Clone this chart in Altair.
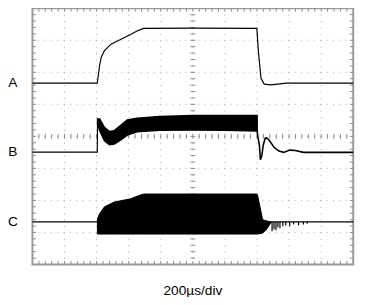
import altair as alt
import pandas as pd

W, H = 328, 262

# ---- data (time in µs, amplitude in divisions, 0..8) ----
a_t = [0, 404, 419, 429, 449, 490, 530, 571, 612, 652, 693, 1000, 1399, 1409, 1425, 1445, 1486, 1585, 2000]
a_v = [5.66, 5.66, 6.22, 6.47, 6.68, 6.88, 6.98, 7.08, 7.18, 7.29, 7.37, 7.38, 7.37, 6.63, 5.81, 5.63, 5.61, 5.66, 5.66]

b_pre_t = [0, 404, 406]
b_pre_v = [3.51, 3.51, 4.54]
b_band_t = [406, 419, 449, 480, 510, 549, 591, 652, 793, 998, 1201, 1401]
b_band_top = [4.54, 4.54, 4.28, 4.15, 4.18, 4.34, 4.51, 4.57, 4.62, 4.65, 4.65, 4.65]
b_band_bot = [4.40, 4.18, 3.86, 3.74, 3.76, 3.88, 4.04, 4.14, 4.19, 4.20, 4.19, 4.17]
b_post_t = [1401, 1405, 1415, 1421, 1430, 1439, 1451, 1460, 1476, 1506, 1537, 1567, 1604, 1640, 1689, 1750, 2000]
b_post_v = [4.17, 4.00, 3.73, 3.27, 3.39, 3.73, 3.94, 3.95, 3.88, 3.66, 3.54, 3.50, 3.57, 3.56, 3.50, 3.50, 3.50]

c_base = 1.33
c_pre_t = [0, 405]
c_band_t = [405, 407, 419, 449, 510, 612, 673, 693, 1400, 1404, 1435, 1460, 1486]
c_band_top = [1.33, 1.45, 1.59, 1.80, 1.95, 2.05, 2.17, 2.20, 2.20, 2.15, 1.40, 1.36, 1.33]
c_band_bot = [0.95, 0.95, 0.95, 0.95, 0.95, 0.95, 0.95, 0.95, 0.95, 0.95, 0.98, 1.10, 1.30]
c_post_t = [1435, 1486, 2000]
c_spike_t = [1494, 1506, 1518, 1530, 1543, 1561, 1579, 1604, 1628, 1659, 1689, 1713]
c_spike_v = [1.04, 1.10, 1.07, 1.16, 1.13, 1.19, 1.22, 1.19, 1.25, 1.22, 1.25, 1.27]

labels = ["A", "B", "C"]
label_levels = [5.66, 3.51, 1.33]
caption = "200µs/div"

grid_t = [200, 400, 600, 800, 1000, 1200, 1400, 1600, 1800]
grid_v = [1, 2, 3, 4, 5, 6, 7]
minor_t = [i * 40 for i in range(1, 50)]
minor_v = [round(i * 0.2, 2) for i in range(1, 40)]

# ---- chart ----
xs = alt.Scale(domain=[0, 2000], nice=False, zero=False)
ys = alt.Scale(domain=[0, 8], nice=False, zero=False)


def X(f="t"):
    return alt.X(f"{f}:Q", scale=xs, axis=None)


def Y(f="v"):
    return alt.Y(f"{f}:Q", scale=ys, axis=None)


GRID = "#a8a8a8"
TICK = "#8a8a8a"
FONT = "Liberation Sans"

df_gt = pd.DataFrame({"t": grid_t})
df_gv = pd.DataFrame({"v": grid_v})
df_mt = pd.DataFrame({"t": minor_t})
df_mv = pd.DataFrame({"v": minor_v})

vgrid = alt.Chart(df_gt).mark_rule(color=GRID, strokeWidth=1, strokeDash=[1, H / 40 - 1]).encode(x=X())
hgrid = alt.Chart(df_gv).mark_rule(color=GRID, strokeWidth=1, strokeDash=[1, W / 50 - 1]).encode(y=Y())

ctick_x = alt.Chart(df_mt).mark_rule(color=TICK, strokeWidth=1).encode(
    x=X(), y=alt.value(H / 2 - 2.5), y2=alt.value(H / 2 + 2.5))
ctick_y = alt.Chart(df_mv).mark_rule(color=TICK, strokeWidth=1).encode(
    y=Y(), x=alt.value(W / 2 - 2.5), x2=alt.value(W / 2 + 2.5))
top_t = alt.Chart(df_mt).mark_rule(color=TICK, strokeWidth=1).encode(
    x=X(), y=alt.value(0), y2=alt.value(3.5))
bot_t = alt.Chart(df_mt).mark_rule(color=TICK, strokeWidth=1).encode(
    x=X(), y=alt.value(H - 3.5), y2=alt.value(H))
left_t = alt.Chart(df_mv).mark_rule(color=TICK, strokeWidth=1).encode(
    y=Y(), x=alt.value(0), x2=alt.value(3.5))
right_t = alt.Chart(df_mv).mark_rule(color=TICK, strokeWidth=1).encode(
    y=Y(), x=alt.value(W - 3.5), x2=alt.value(W))

LW = 1.2
trace_a = alt.Chart(pd.DataFrame({"t": a_t, "v": a_v})).mark_line(color="black", strokeWidth=LW).encode(x=X(), y=Y())

b_pre = alt.Chart(pd.DataFrame({"t": b_pre_t, "v": b_pre_v})).mark_line(color="black", strokeWidth=LW).encode(x=X(), y=Y())
b_band = alt.Chart(pd.DataFrame({"t": b_band_t, "top": b_band_top, "bot": b_band_bot})).mark_area(
    color="black", stroke="black", strokeWidth=1.5).encode(x=X(), y=Y("top"), y2="bot:Q")
b_post = alt.Chart(pd.DataFrame({"t": b_post_t, "v": b_post_v})).mark_line(color="black", strokeWidth=1.6).encode(x=X(), y=Y())

c_pre = alt.Chart(pd.DataFrame({"t": c_pre_t, "v": [c_base] * len(c_pre_t)})).mark_line(color="black", strokeWidth=LW).encode(x=X(), y=Y())
c_band = alt.Chart(pd.DataFrame({"t": c_band_t, "top": c_band_top, "bot": c_band_bot})).mark_area(
    color="black", stroke="black", strokeWidth=1).encode(x=X(), y=Y("top"), y2="bot:Q")
c_post = alt.Chart(pd.DataFrame({"t": c_post_t, "v": [c_base] * len(c_post_t)})).mark_line(color="black", strokeWidth=LW).encode(x=X(), y=Y())
c_spk = alt.Chart(pd.DataFrame({"t": c_spike_t, "v": c_spike_v, "b": [c_base] * len(c_spike_t)})).mark_rule(
    color="black", strokeWidth=1.2).encode(x=X(), y=Y(), y2="b:Q")

lab = alt.Chart(pd.DataFrame({"label": labels, "v": label_levels})).mark_text(
    font=FONT, fontSize=14, color="black", align="center", baseline="middle").encode(
    x=alt.value(-20), y=Y(), text="label:N")
cap = alt.Chart(pd.DataFrame({"c": [caption]})).mark_text(
    font=FONT, fontSize=14, color="black", align="center", baseline="middle").encode(
    x=alt.value(W / 2), y=alt.value(H + 27), text="c:N")

chart = alt.layer(
    vgrid, hgrid, ctick_x, ctick_y, top_t, bot_t, left_t, right_t,
    trace_a, b_pre, b_band, b_post, c_pre, c_band, c_post, c_spk, lab, cap
).properties(
    width=W, height=H,
    autosize=alt.AutoSizeParams(type="none"),
    padding={"left": 25, "top": -3, "right": 11, "bottom": 30},
).configure_view(stroke="#9a9a9a", strokeWidth=2)

chart.save("out.html", embed_options={"renderer": "svg", "actions": False})
